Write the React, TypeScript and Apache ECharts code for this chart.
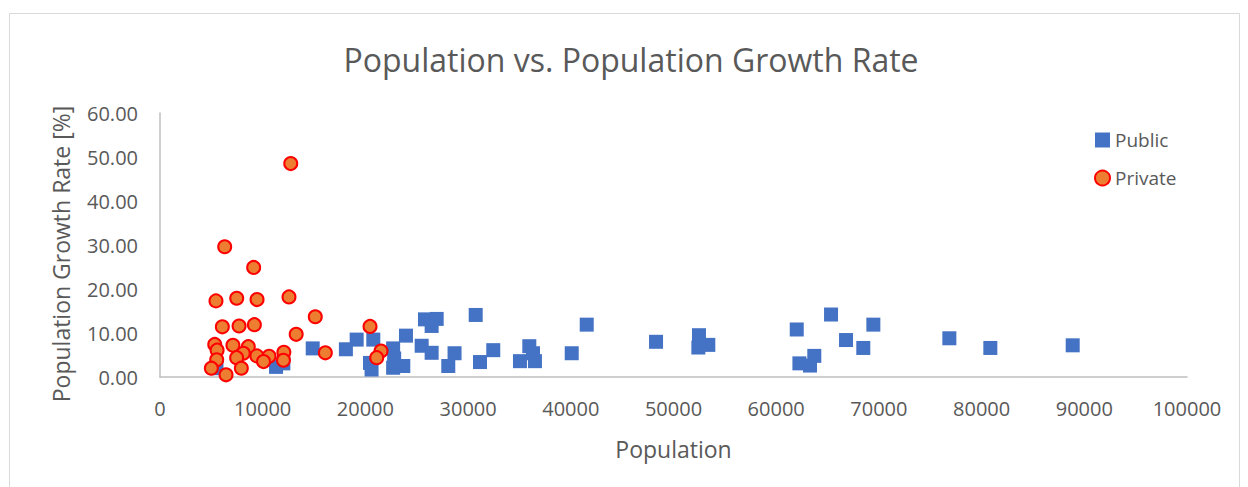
import React, { useEffect, useRef } from "react";
import * as echarts from "echarts";

// Population vs. growth rate, one [population, rate %] pair per town
const publicTowns: [number, number][] = [
  [5500, 2.0], [11300, 2.3], [12010, 3.1], [14870, 6.5], [18100, 6.3],
  [19150, 8.5], [20770, 8.5], [20450, 3.2], [20600, 1.7], [22700, 6.5],
  [22800, 4.2], [22700, 2.1], [23690, 2.5], [23950, 9.4], [25480, 7.1],
  [25800, 13.1], [26940, 13.2], [26450, 11.6], [26450, 5.5], [28680, 5.4],
  [28070, 2.5], [30740, 14.1], [32450, 6.1], [31160, 3.4], [35050, 3.6],
  [35960, 7.0], [36510, 3.6], [36320, 5.4], [40090, 5.4], [41550, 11.9],
  [48300, 8.0], [52480, 9.5], [52420, 6.7], [53390, 7.3], [62000, 10.8],
  [62260, 3.1], [63290, 2.6], [63710, 4.8], [65340, 14.2], [66800, 8.4],
  [68480, 6.6], [69460, 11.9], [76860, 8.8], [80850, 6.6], [88870, 7.2],
];

const privateTowns: [number, number][] = [
  [12730, 48.5], [6300, 29.6], [9120, 24.9], [5450, 17.3], [7470, 17.9],
  [9450, 17.6], [12560, 18.2], [15120, 13.7], [6070, 11.4], [7700, 11.6],
  [9190, 11.9], [13260, 9.7], [16100, 5.5], [5330, 7.4], [5560, 6.1],
  [7100, 7.2], [8600, 6.9], [8110, 5.4], [7460, 4.4], [5520, 3.9],
  [9430, 4.8], [10620, 4.7], [12060, 5.6], [12020, 3.8], [10080, 3.5],
  [5000, 2.0], [7920, 2.0], [6430, 0.5], [20450, 11.5], [21520, 5.9],
  [21100, 4.4],
];

const titleText = "Population vs. Population Growth Rate";
const xAxisName = "Population";
const yAxisName = "Population Growth Rate [%]";
const seriesNames = ["Public", "Private"];

const FONT = "'Open Sans', 'Noto Sans', sans-serif";
const GREY = "#595959";

export default function App() {
  const ref = useRef<HTMLDivElement>(null);

  useEffect(() => {
    if (!ref.current) return;
    const chart = echarts.init(ref.current, undefined, { renderer: "svg" });
    chart.setOption({
      animation: false,
      backgroundColor: "#ffffff",
      textStyle: { fontFamily: FONT },
      graphic: [
        {
          type: "rect",
          shape: { x: 9.5, y: 13.5, width: 1230, height: 490 },
          style: { fill: "none", stroke: "#d9d9d9", lineWidth: 1 },
          silent: true,
        },
        {
          type: "text",
          x: 631,
          y: 59,
          style: {
            text: titleText,
            fontFamily: FONT,
            fontSize: 32,
            fill: GREY,
            textAlign: "center",
            textVerticalAlign: "middle",
          },
          silent: true,
        },
        {
          type: "text",
          x: 61,
          y: 254,
          rotation: Math.PI / 2,
          style: {
            text: yAxisName,
            fontFamily: FONT,
            fontSize: 23,
            fill: GREY,
            textAlign: "center",
            textVerticalAlign: "middle",
          },
          silent: true,
        },
      ],
      legend: {
        orient: "vertical",
        left: 1094,
        top: 129,
        padding: 0,
        itemGap: 16,
        itemWidth: 15,
        itemHeight: 15,
        textStyle: { fontFamily: FONT, fontSize: 19, color: GREY, lineHeight: 22 },
        data: seriesNames,
      },
      grid: { left: 160, right: 61, top: 113, bottom: 110, containLabel: false },
      xAxis: {
        type: "value",
        min: 0,
        max: 100000,
        interval: 10000,
        name: xAxisName,
        nameLocation: "middle",
        nameGap: 60,
        nameTextStyle: { fontFamily: FONT, fontSize: 23, color: GREY },
        axisLine: { show: true, lineStyle: { color: "#bfbfbf", width: 1.5 } },
        axisTick: { show: false },
        splitLine: { show: false },
        axisLabel: {
          fontFamily: FONT,
          fontSize: 20,
          color: GREY,
          margin: 21,
          formatter: (v: number) => String(v),
        },
      },
      yAxis: {
        type: "value",
        min: 0,
        max: 60,
        interval: 10,
        axisLine: { show: true, lineStyle: { color: "#bfbfbf", width: 1.5 } },
        axisTick: { show: false },
        splitLine: { show: false },
        axisLabel: {
          fontFamily: FONT,
          fontSize: 20,
          color: GREY,
          margin: 22,
          formatter: (v: number) => v.toFixed(2),
        },
      },
      series: [
        {
          name: seriesNames[0],
          type: "scatter",
          symbol: "rect",
          symbolSize: 14,
          itemStyle: { color: "#4472C4", opacity: 1 },
          data: publicTowns,
        },
        {
          name: seriesNames[1],
          type: "scatter",
          symbol: "circle",
          symbolSize: 13,
          itemStyle: { color: "#ED7D31", borderColor: "#FF0000", borderWidth: 2, opacity: 1 },
          data: privateTowns,
        },
      ],
    });
    return () => chart.dispose();
  }, []);

  return (
    <div
      ref={ref}
      style={{ position: "fixed", left: 0, top: 0, width: 1248, height: 487 }}
    />
  );
}
